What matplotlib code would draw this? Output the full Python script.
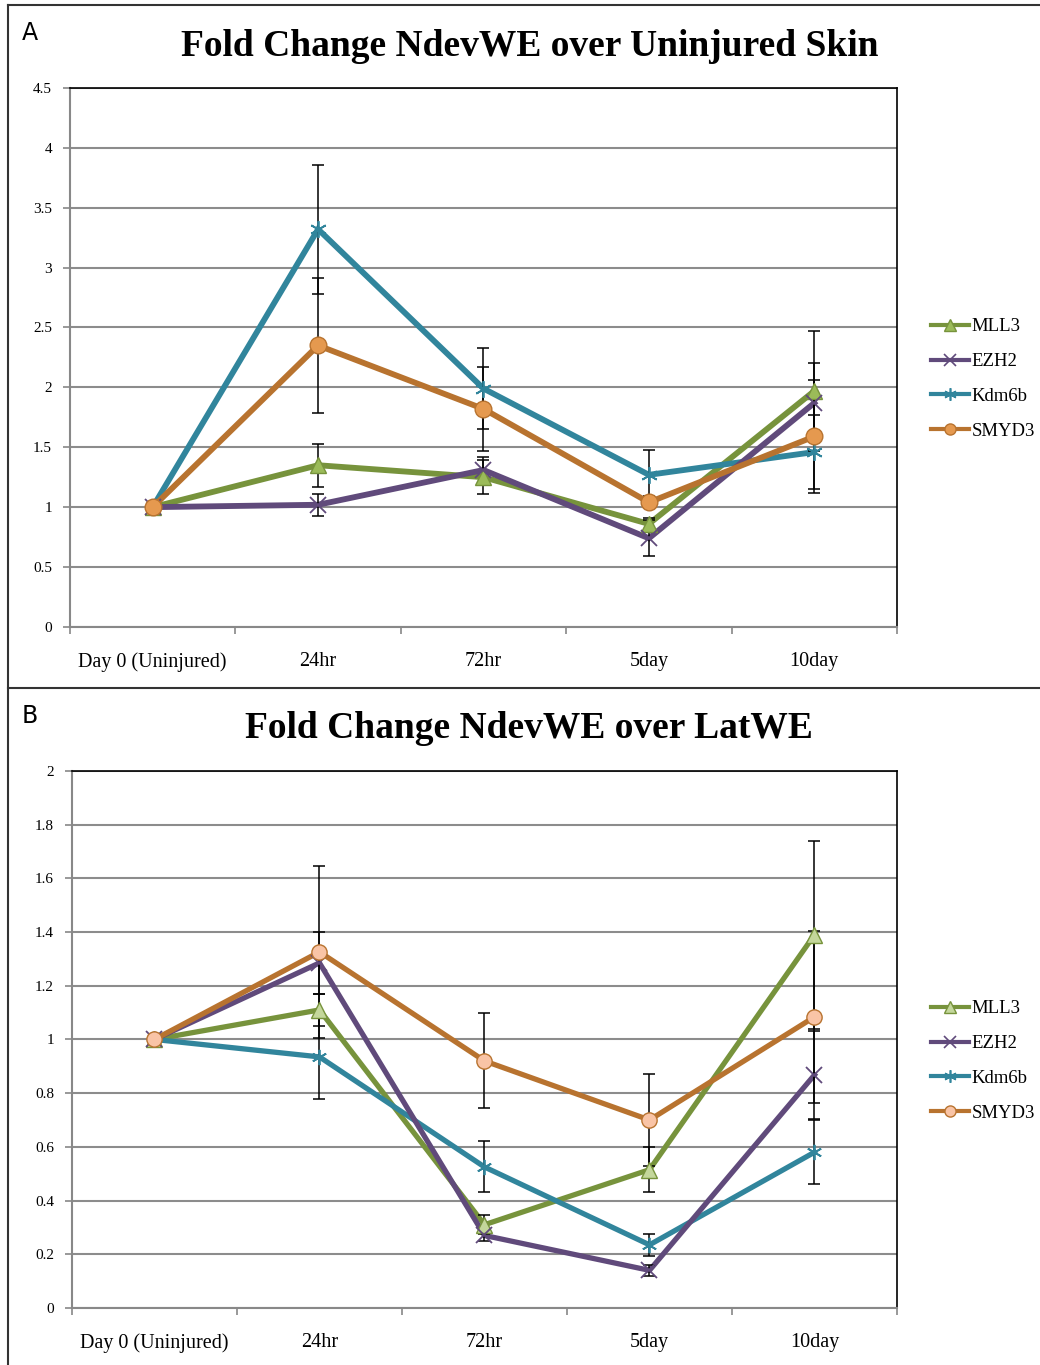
import numpy as np
import matplotlib.pyplot as plt
from matplotlib.lines import Line2D

# time points and series values read per panel
timepoints = ["Day 0 (Uninjured)", "24hr", "72hr", "5day", "10day"]
genes = ["MLL3", "EZH2", "Kdm6b", "SMYD3"]

# A: fold change NdevWE over uninjured skin
a_mll3 = [1.0, 1.35, 1.25, 0.86, 1.97]
a_ezh2 = [1.0, 1.02, 1.31, 0.74, 1.87]
a_kdm6b = [1.0, 3.32, 1.99, 1.27, 1.46]
a_smyd3 = [1.0, 2.35, 1.82, 1.04, 1.59]
a_mll3_err = [0.0, 0.18, 0.14, 0.05, 0.50]
a_ezh2_err = [0.0, 0.09, 0.11, 0.15, 0.33]
a_kdm6b_err = [0.0, 0.54, 0.34, 0.21, 0.31]
a_smyd3_err = [0.0, 0.56, 0.35, 0.05, 0.47]

# B: fold change NdevWE over LatWE
b_mll3 = [1.0, 1.11, 0.31, 0.515, 1.39]
b_ezh2 = [1.0, 1.285, 0.27, 0.14, 0.868]
b_kdm6b = [1.0, 0.935, 0.525, 0.235, 0.58]
b_smyd3 = [1.0, 1.326, 0.92, 0.70, 1.084]
b_mll3_err = [0.0, 0.06, 0.035, 0.085, 0.35]
b_ezh2_err = [0.0, 0.115, 0.02, 0.02, 0.165]
b_kdm6b_err = [0.0, 0.155, 0.095, 0.04, 0.12]
b_smyd3_err = [0.0, 0.32, 0.177, 0.17, 0.32]

line_colors = {"MLL3": "#77933C", "EZH2": "#604A7B", "Kdm6b": "#31859C", "SMYD3": "#B8732F"}
marker_style = {"MLL3": "^", "EZH2": "x", "Kdm6b": (6, 2, 0), "SMYD3": "o"}
zorders = {"MLL3": 2.0, "Kdm6b": 2.1, "EZH2": 2.2, "SMYD3": 2.3}

SERIF = "Liberation Serif"


def draw_panel(ax, values, errors, fills, ymax, ystep, lw, msize):
    x = np.arange(len(timepoints)) + 0.5
    handles = []
    for gene, y, err in zip(genes, values, errors):
        col = line_colors[gene]
        mk = marker_style[gene]
        open_marker = mk == "x" or isinstance(mk, tuple)
        ax.plot(x, y, color=col, lw=lw, solid_joinstyle="miter", zorder=zorders[gene])
        ax.errorbar(x, y, yerr=err, fmt="none", ecolor="black", elinewidth=1.1,
                    capsize=4, capthick=1.1, zorder=3)
        if open_marker:
            ax.plot(x, y, ls="none", marker=mk, ms=msize, mec=col, mew=1.3, zorder=4)
            h = Line2D([], [], color=col, lw=3, marker=mk, ms=9, mec=col, mew=1.2)
        else:
            ax.plot(x, y, ls="none", marker=mk, ms=msize, mfc=fills[gene],
                    mec=col, mew=1.0, zorder=4)
            h = Line2D([], [], color=col, lw=3, marker=mk, ms=8, mfc=fills[gene], mec=col)
        handles.append(h)

    ax.set_xlim(0, len(timepoints))
    ax.set_ylim(0, ymax)
    yt = np.arange(0, ymax + ystep / 2, ystep)
    ax.set_yticks(yt)
    ax.set_yticklabels(["%g" % v for v in yt], fontfamily=SERIF, fontsize=11)
    ax.set_xticks(np.arange(len(timepoints) + 1))
    ax.set_xticklabels([])
    ax.set_xticks(x, minor=True)
    ax.set_xticklabels(timepoints, minor=True, fontfamily=SERIF, fontsize=14.5)
    ax.tick_params(axis="x", which="minor", length=0, pad=18)
    ax.tick_params(axis="both", which="major", length=5, color="#888888", width=1.2)
    ax.tick_params(axis="y", pad=8)
    ax.yaxis.grid(True, color="#8C8C8C", lw=1.5)
    ax.set_axisbelow(True)
    for side in ("left", "bottom"):
        ax.spines[side].set_color("#888888")
        ax.spines[side].set_linewidth(1.5)
    for side in ("top", "right"):
        ax.spines[side].set_color("black")
        ax.spines[side].set_linewidth(1.2)
    return handles


fig = plt.figure(figsize=(10.4, 13.65), dpi=100)

ax1 = fig.add_axes([0.0673, 0.5407, 0.7952, 0.3949])
fills_a = {"MLL3": "#9BBB59", "EZH2": "#604A7B", "Kdm6b": "#31859C", "SMYD3": "#E5994F"}
h1 = draw_panel(ax1, [a_mll3, a_ezh2, a_kdm6b, a_smyd3],
                [a_mll3_err, a_ezh2_err, a_kdm6b_err, a_smyd3_err],
                fills_a, 4.5, 0.5, lw=4.2, msize=12)

ax2 = fig.add_axes([0.0692, 0.0418, 0.7933, 0.3934])
fills_b = {"MLL3": "#C4D79B", "EZH2": "#604A7B", "Kdm6b": "#31859C", "SMYD3": "#F9C4A6"}
h2 = draw_panel(ax2, [b_mll3, b_ezh2, b_kdm6b, b_smyd3],
                [b_mll3_err, b_ezh2_err, b_kdm6b_err, b_smyd3_err],
                fills_b, 2.0, 0.2, lw=3.8, msize=11)

for handles, yc in ((h1, 1 - 379 / 1365), (h2, 1 - 1061 / 1365)):
    fig.legend(handles, genes, loc="center left", bbox_to_anchor=(0.879, yc),
               frameon=False, prop={"family": SERIF, "size": 13.5},
               handlelength=2.0, handletextpad=0.15, labelspacing=0.95)

fig.text(0.509, 1 - 46 / 1365, "Fold Change NdevWE over Uninjured Skin", ha="center",
         va="center", fontfamily=SERIF, fontweight="bold", fontsize=27)
fig.text(0.509, 1 - 729 / 1365, "Fold Change NdevWE over LatWE", ha="center",
         va="center", fontfamily=SERIF, fontweight="bold", fontsize=27)
fig.text(0.021, 1 - 33 / 1365, "A", ha="left", va="center", fontsize=17)
fig.text(0.021, 1 - 716 / 1365, "B", ha="left", va="center", fontsize=17)

# panel frame
frame_kw = dict(color="#333333", lw=1.5, transform=fig.transFigure)
fig.add_artist(Line2D([8 / 1040, 8 / 1040], [0, 1 - 5 / 1365], **frame_kw))
fig.add_artist(Line2D([8 / 1040, 1], [1 - 5 / 1365, 1 - 5 / 1365], **frame_kw))
fig.add_artist(Line2D([8 / 1040, 1], [1 - 688 / 1365, 1 - 688 / 1365], **frame_kw))

plt.savefig("out.png", dpi=100)
